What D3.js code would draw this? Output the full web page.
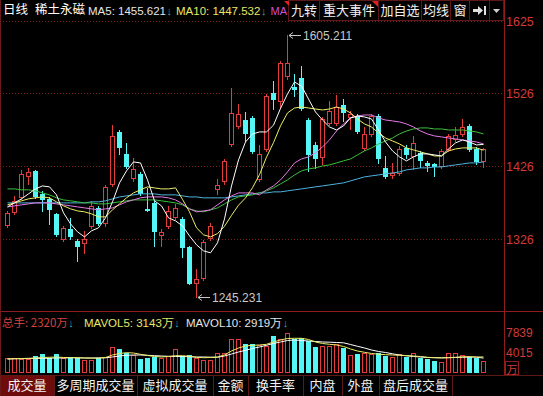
<!DOCTYPE html>
<html><head><meta charset="utf-8">
<script src="https://cdn.jsdelivr.net/npm/d3@7"></script>
<style>html,body{margin:0;padding:0;background:#000;overflow:hidden}svg{display:block}</style>
</head><body><svg id="c" width="543" height="396"></svg>
<script>
// ---------------- data ----------------
const days = d3.range(1, 70);
const open  = [1344.6,1362.5,1383.2,1412.2,1419.1,1387.4,1380.5,1359.8,1325.3,1339.1,1322.5,1319.8,1343.2,1368.0,1347.4,1401.1,1472.9,1442.5,1409.4,1414.9,1366.7,1374.9,1330.8,1343.2,1355.6,1352.9,1314.3,1264.6,1271.5,1326.7,1394.2,1405.3,1456.3,1481.1,1489.4,1492.2,1408.0,1449.4,1526.6,1515.6,1550.1,1534.9,1547.3,1489.4,1454.9,1438.4,1485.3,1485.3,1510.1,1493.5,1494.9,1450.8,1470.1,1494.9,1423.2,1413.6,1416.3,1450.8,1439.8,1443.9,1430.1,1428.7,1426.0,1449.4,1463.2,1470.1,1481.1,1449.4,1432.9];
const high  = [1363.9,1384.6,1420.5,1423.2,1420.5,1391.5,1383.2,1361.2,1343.2,1354.3,1325.3,1336.3,1377.7,1370.8,1399.8,1482.5,1475.6,1457.7,1437.0,1417.7,1395.6,1377.7,1339.1,1370.8,1373.6,1355.6,1315.6,1283.9,1323.9,1347.4,1408.0,1435.6,1533.5,1511.5,1500.4,1494.9,1455.0,1525.3,1543.2,1570.7,1605.211,1552.8,1563.9,1492.2,1459.1,1493.5,1515.6,1523.9,1518.4,1501.8,1497.7,1479.7,1497.7,1497.7,1439.8,1430.1,1453.5,1455.0,1467.3,1446.6,1432.9,1430.1,1449.4,1470.1,1479.7,1490.8,1483.9,1452.2,1450.8];
const low   = [1341.8,1359.8,1380.5,1401.1,1381.8,1363.9,1346.0,1329.4,1322.5,1325.3,1295.0,1306.0,1340.5,1344.6,1343.2,1398.4,1442.5,1423.2,1405.3,1386.0,1363.9,1315.6,1315.6,1340.5,1352.9,1300.5,1263.2,1245.231,1268.8,1323.9,1387.4,1401.1,1453.5,1478.4,1460.4,1443.9,1405.3,1446.6,1504.6,1506.0,1546.0,1522.5,1503.2,1419.1,1423.2,1428.7,1482.5,1482.5,1488.0,1477.0,1471.5,1448.0,1467.3,1430.1,1409.4,1409.4,1413.6,1437.0,1421.8,1424.6,1419.1,1412.2,1423.2,1446.6,1460.4,1467.3,1446.6,1428.7,1424.6];
const close = [1361.2,1377.7,1414.9,1417.7,1384.6,1380.5,1366.7,1332.2,1340.5,1329.4,1315.6,1325.3,1370.8,1347.4,1397.0,1467.3,1452.2,1426.0,1421.8,1388.7,1365.3,1336.3,1335.0,1363.9,1368.0,1314.3,1264.6,1270.1,1321.2,1343.2,1399.8,1432.9,1499.0,1497.7,1471.5,1446.6,1442.5,1522.5,1518.4,1568.0,1568.0,1532.1,1505.9,1442.5,1437.0,1490.8,1501.8,1507.3,1500.4,1497.7,1474.2,1470.1,1494.9,1437.0,1412.2,1416.3,1449.4,1442.5,1457.7,1434.2,1427.3,1426.0,1446.6,1467.3,1468.7,1479.7,1449.4,1432.9,1449.4];

const ma5  = [1369.7,1375.2,1380.7,1387.6,1394.4,1398.5,1397.2,1386.2,1361.5,1346.4,1335.4,1328.5,1336.8,1340.9,1354.6,1376.6,1402.7,1419.1,1431.5,1430.1,1406.8,1378.0,1371.1,1354.6,1350.5,1343.6,1329.9,1317.6,1309.3,1306.6,1320.3,1353.2,1398.5,1434.2,1458.9,1469.9,1472.7,1472.7,1482.0,1505.0,1525.0,1541.3,1535.8,1518.0,1500.1,1489.1,1479.5,1475.4,1480.9,1491.9,1494.6,1493.3,1490.5,1475.4,1458.9,1446.6,1438.4,1432.9,1438.4,1442.5,1442.5,1441.1,1439.7,1449.3,1457.6,1461.7,1458.9,1454.8,1455.6];
const ma10 = [1372.5,1375.2,1378.0,1380.7,1382.1,1383.4,1382.1,1376.6,1371.1,1367.0,1364.2,1362.9,1360.1,1356.0,1356.0,1365.6,1373.8,1382.1,1388.9,1393.1,1397.2,1395.8,1394.4,1394.4,1395.8,1380.0,1362.9,1340.9,1331.3,1328.5,1333.0,1343.0,1358.0,1372.0,1382.0,1396.0,1414.0,1438.0,1458.0,1481.0,1498.8,1505.6,1507.0,1505.6,1504.2,1502.9,1504.2,1507.0,1504.2,1498.8,1490.5,1483.7,1479.5,1471.3,1464.4,1460.3,1456.2,1450.7,1448.0,1445.2,1442.5,1439.7,1439.7,1446.6,1449.3,1450.7,1450.7,1450.7,1447.5];
const ma20 = [1369.7,1371.1,1372.5,1373.8,1375.2,1375.2,1375.2,1373.8,1372.5,1371.1,1369.7,1368.3,1367.0,1365.6,1367.0,1368.3,1372.5,1376.6,1379.3,1382.1,1383.4,1383.4,1383.4,1382.1,1379.3,1373.8,1367.0,1362.9,1364.2,1365.6,1372.5,1379.3,1384.8,1388.9,1388.9,1388.9,1386.2,1393.1,1398.5,1406.8,1417.8,1430.1,1435.6,1438.4,1443.8,1452.1,1461.7,1474.0,1483.7,1491.9,1494.6,1496.0,1496.0,1491.9,1489.1,1487.8,1486.4,1483.7,1479.5,1474.0,1469.9,1467.2,1465.8,1464.4,1463.1,1461.7,1460.3,1458.9,1456.2];
const ma30 = [1394.4,1394.4,1393.1,1393.1,1391.7,1388.9,1386.2,1382.1,1379.3,1378.0,1376.6,1375.2,1375.2,1373.8,1373.8,1375.2,1376.6,1378.0,1379.3,1379.3,1379.3,1379.3,1378.0,1376.6,1375.2,1372.5,1367.0,1364.2,1362.9,1365.6,1368.3,1373.8,1379.3,1383.4,1384.8,1386.2,1388.9,1391.7,1395.8,1401.3,1406.8,1413.6,1419.1,1421.9,1423.3,1426.0,1427.4,1430.1,1432.9,1435.6,1441.1,1446.6,1450.7,1456.2,1460.3,1464.4,1469.9,1474.0,1476.8,1478.2,1478.2,1476.8,1476.8,1475.4,1475.4,1475.4,1474.0,1472.7,1469.9];
const ma60 = [1375.2,1375.2,1375.2,1375.2,1375.2,1375.2,1375.2,1375.2,1375.2,1375.2,1375.2,1375.2,1376.6,1376.6,1378.0,1380.7,1383.4,1384.8,1386.2,1387.6,1387.6,1387.6,1386.2,1386.2,1386.2,1384.8,1383.4,1383.4,1382.1,1382.1,1382.1,1382.1,1383.4,1384.8,1386.2,1387.6,1388.9,1388.9,1390.3,1390.3,1391.7,1393.1,1394.4,1395.8,1397.2,1398.5,1399.9,1401.3,1402.7,1405.4,1408.2,1410.9,1412.3,1413.6,1415.0,1416.4,1417.8,1420.5,1421.9,1423.3,1423.3,1424.6,1424.6,1426.0,1427.4,1428.7,1430.1,1430.1,1431.5];

const volume  = [2881,2881,2744,2685,3391,3665,2881,3665,2881,3195,2881,2548,2548,2881,3195,5037,4704,3861,3528,2744,2881,3195,2881,3391,4704,3391,3528,2999,2548,2548,3861,3979,6664,6664,5625,5625,5488,5351,7311,6605,7781,6605,6801,6272,5155,5351,5351,5625,4841,3528,3724,3861,3724,3861,3391,3195,3665,3195,3861,2881,2744,2352,2097,3861,3979,3528,3195,2999,2320];
const mavol5  = [2744,2803,2842,2881,2940,3038,3077,3136,3038,3038,2999,2940,2901,2940,3038,3528,3822,3979,3920,3665,3430,3234,3136,3234,3391,3391,3273,3077,2999,3038,3136,3528,4312,4900,5292,5429,5488,5625,6076,6468,6762,6801,6801,6566,6076,5782,5625,5488,5194,4704,4312,4057,3822,3685,3587,3528,3469,3410,3332,3234,3077,2999,2960,2999,3077,3175,3195,3136,3143];
const mavol10 = [2744,2783,2803,2822,2842,2881,2901,2940,2940,2979,2979,2940,2940,2940,2979,3136,3332,3469,3528,3528,3469,3391,3332,3273,3234,3234,3195,3136,3136,3097,3077,3332,3724,4116,4449,4802,5096,5429,5782,6076,6370,6468,6370,6272,6174,6076,6037,5978,5919,5586,5233,4900,4508,4214,4018,3763,3528,3371,3234,3136,3038,2999,2979,2999,3038,3077,3136,3097,2919];

const priceTicks = [1625, 1526, 1426, 1326];
const volTicks = [7839, 4015];
const maxMark = {day: 41, value: 1605.211, label: "1605.211"};
const minMark = {day: 28, value: 1245.231, label: "1245.231"};
const topTabs = ["九转", "重大事件", "加自选", "均线", "窗"];
const bottomTabs = ["成交量", "多周期成交量", "虚拟成交量", "金额", "换手率", "内盘", "外盘", "盘后成交量"];

// ---------------- drawing ----------------
const svg = d3.select("#c");
const CJK = '"Noto Sans CJK SC", sans-serif';
const LAT = '"Liberation Sans", Arial, sans-serif';
const UP = "#e23c3c", DN = "#54f6f6", AX = "#8e1c1c", GRID = "#7a1e1e", LBL = "#d23a3a", ARW = "#3aa7a7";

svg.append("rect").attr("width", 543).attr("height", 396).attr("fill", "#000");

const x = d3.scaleLinear().domain([0, 69]).range([0, 483]);
const y = d3.scaleLinear().domain([1228, 1626.5]).range([310, 20]);
const yv = d3.scaleLinear().domain([0, 7839]).range([373, 333]);

const defs = svg.append("defs");
defs.append("clipPath").attr("id", "mainClip").append("rect").attr("x", 0).attr("y", 20).attr("width", 504).attr("height", 291);
defs.append("clipPath").attr("id", "volClip").append("rect").attr("x", 0).attr("y", 312).attr("width", 504).attr("height", 62);

// grid lines
svg.append("g").selectAll("line").data(priceTicks).join("line")
  .attr("x1", 0).attr("x2", 504)
  .attr("y1", d => Math.round(y(d)) + 0.5).attr("y2", d => Math.round(y(d)) + 0.5)
  .attr("stroke", GRID).attr("stroke-dasharray", "1,2");

// price axis (right)
const pAxis = d3.axisRight(y).tickValues(priceTicks).tickSize(0).tickPadding(0).tickFormat(d3.format("d"));
const pg = svg.append("g").attr("transform", "translate(506,0)").call(pAxis);
pg.select(".domain").remove();
pg.selectAll("text").attr("fill", LBL).attr("font-family", LAT).attr("font-size", 12.5).attr("dy", "0.35em");

// volume axis
const vAxis = d3.axisRight(yv).tickValues(volTicks).tickSize(0).tickPadding(0).tickFormat(d3.format("d"));
const vg = svg.append("g").attr("transform", "translate(506,0)").call(vAxis);
vg.select(".domain").remove();
vg.selectAll("text").attr("fill", LBL).attr("font-family", LAT).attr("font-size", 12).attr("dy", "0.3em");
svg.append("rect").attr("x", 505.5).attr("y", 361.5).attr("width", 13).attr("height", 13).attr("fill", "none").attr("stroke", AX);
svg.append("text").attr("x", 506.5).attr("y", 373.5).attr("fill", LBL).attr("font-family", CJK).attr("font-size", 11).text("万");

// candles
const cg = svg.append("g").attr("clip-path", "url(#mainClip)");
days.forEach((d, i) => {
  const xc = Math.round(x(d));
  const o = open[i], c = close[i], h = high[i], l = low[i];
  const up = c >= o, col = up ? UP : DN;
  cg.append("line").attr("x1", xc + 0.5).attr("x2", xc + 0.5)
    .attr("y1", Math.round(y(h))).attr("y2", Math.round(y(l)) + 1).attr("stroke", col);
  const yt = Math.round(y(Math.max(o, c))), yb = Math.round(y(Math.min(o, c)));
  const hh = Math.max(yb - yt, 1);
  if (up) cg.append("rect").attr("x", xc - 1.5).attr("y", yt + 0.5).attr("width", 4).attr("height", hh).attr("fill", "#000").attr("stroke", col);
  else cg.append("rect").attr("x", xc - 2).attr("y", yt).attr("width", 5).attr("height", hh + 1).attr("fill", col);
});

// moving average lines
const maLine = d3.line().x((d, i) => x(days[i]) + 0.5).y(d => y(d));
const mas = [[ma60, "#4fb3e0"], [ma30, "#3cc03c"], [ma20, "#e37ae3"], [ma10, "#eeee66"], [ma5, "#ffffff"]];
mas.forEach(([arr, col]) => {
  cg.append("path").attr("d", maLine(arr)).attr("fill", "none").attr("stroke", col).attr("stroke-width", 1);
});

// max / min markers
function marker(m) {
  const xc = Math.round(x(m.day)) + 1, yy = Math.round(y(m.value)) + 0.5;
  const g = svg.append("g").attr("stroke", "#c8c8c8").attr("fill", "none");
  g.append("line").attr("x1", xc + 1).attr("x2", xc + 13).attr("y1", yy).attr("y2", yy);
  g.append("path").attr("d", `M${xc + 5},${yy - 3} L${xc + 1},${yy} L${xc + 5},${yy + 3}`);
  svg.append("text").attr("x", xc + 15).attr("y", yy).attr("dy", "0.36em").attr("fill", "#c8c8c8")
    .attr("font-family", LAT).attr("font-size", 12).text(m.label);
}
marker(maxMark);
marker(minMark);

// volume bars
const vgBars = svg.append("g").attr("clip-path", "url(#volClip)");
days.forEach((d, i) => {
  const xc = Math.round(x(d));
  const up = close[i] >= open[i], col = up ? UP : DN;
  const yt = Math.round(yv(volume[i])), yb = Math.round(yv(0));
  if (up) vgBars.append("rect").attr("x", xc - 1.5).attr("y", yt + 0.5).attr("width", 4).attr("height", yb - yt - 1).attr("fill", "none").attr("stroke", col);
  else vgBars.append("rect").attr("x", xc - 2).attr("y", yt).attr("width", 5).attr("height", yb - yt).attr("fill", col);
});
const vLine = d3.line().x((d, i) => x(days[i]) + 0.5).y(d => yv(d));
vgBars.append("path").attr("d", vLine(mavol10)).attr("fill", "none").attr("stroke", "#ffffff");
vgBars.append("path").attr("d", vLine(mavol5)).attr("fill", "none").attr("stroke", "#eeee66");

// frame lines
svg.append("line").attr("x1", 504.5).attr("x2", 504.5).attr("y1", 0).attr("y2", 375).attr("stroke", AX);
svg.append("line").attr("x1", 0).attr("x2", 543).attr("y1", 311.5).attr("y2", 311.5).attr("stroke", AX);
svg.append("line").attr("x1", 0.5).attr("x2", 0.5).attr("y1", 0).attr("y2", 396).attr("stroke", "#6a1a1a");

// ---- header text ----
function t(xp, yp, s, col, fam, size) {
  return svg.append("text").attr("x", xp).attr("y", yp).attr("fill", col).attr("font-family", fam).attr("font-size", size).text(s);
}
// text followed directly by a small down arrow
function ta(xp, yp, s, col, fam, size) {
  const el = t(xp, yp, s, col, fam, size);
  const w = el.node().getComputedTextLength();
  t(xp + w + 0.5, yp, "↓", ARW, LAT, 11);
}
t(3, 14, "日线", "#ffffff", CJK, 12.5);
t(35, 14, "稀土永磁", "#ffffff", CJK, 12.5);
ta(88, 15, "MA5: 1455.621", "#e6e6e6", LAT, 11.5);
ta(176, 15, "MA10: 1447.532", "#e8e86a", LAT, 11.5);
t(270.5, 15, "MA", "#d24fd2", LAT, 11);

// top buttons
const btnEdges = [288, 319, 378, 421, 450, 469, 489, 503];
const bg = svg.append("g");
for (let k = 0; k < btnEdges.length - 1; k++) {
  bg.append("rect").attr("x", btnEdges[k] + 0.5).attr("y", 0.5).attr("width", btnEdges[k + 1] - btnEdges[k]).attr("height", 20)
    .attr("fill", "#000").attr("stroke", "#5e1818");
}
topTabs.forEach((s, k) => {
  bg.append("text").attr("x", (btnEdges[k] + btnEdges[k + 1]) / 2 + 0.5).attr("y", 15).attr("text-anchor", "middle")
    .attr("fill", "#f0f0f0").attr("font-family", CJK).attr("font-size", 13).text(s);
});
// arrow-to-end icon
bg.append("path").attr("d", "M473,9 L478,9 L478,6 L483,10.5 L478,15 L478,12 L473,12 Z").attr("fill", "#e0e0e0");
bg.append("rect").attr("x", 484).attr("y", 6).attr("width", 2).attr("height", 9).attr("fill", "#e0e0e0");
// dropdown triangle
bg.append("path").attr("d", "M493,9 L500,9 L496.5,13 Z").attr("fill", "#d0d0d0");
// small red flags
bg.append("path").attr("d", "M284,1 L289,1 L289,6 Z").attr("fill", "#e02020");
bg.append("path").attr("d", "M372,1 L378,1 L378,7 Z").attr("fill", "#e02020");

// ---- volume header ----
ta(2, 327, "总手: 2320万", "#d8433f", CJK, 11.5);
ta(84, 327, "MAVOL5: 3143万", "#e8e86a", LAT, 11.5);
ta(186, 327, "MAVOL10: 2919万", "#e6e6e6", LAT, 11.5);

// ---- bottom tabs ----
const tabEdges = [0, 54, 137, 213, 248, 303, 342, 379, 452];
const tg = svg.append("g");
tg.append("line").attr("x1", 0).attr("x2", 543).attr("y1", 375.5).attr("y2", 375.5).attr("stroke", "#5e1818");
tg.append("rect").attr("x", 1).attr("y", 376).attr("width", 53).attr("height", 20).attr("fill", "#6e0c0c");
for (let k = 1; k < tabEdges.length; k++) {
  tg.append("line").attr("x1", tabEdges[k] + 0.5).attr("x2", tabEdges[k] + 0.5).attr("y1", 376).attr("y2", 396).attr("stroke", "#5e1818");
}
bottomTabs.forEach((s, k) => {
  tg.append("text").attr("x", (tabEdges[k] + tabEdges[k + 1]) / 2).attr("y", 390).attr("text-anchor", "middle")
    .attr("fill", "#f2f2f2").attr("font-family", CJK).attr("font-size", 13).text(s);
});
</script>
</body></html>
